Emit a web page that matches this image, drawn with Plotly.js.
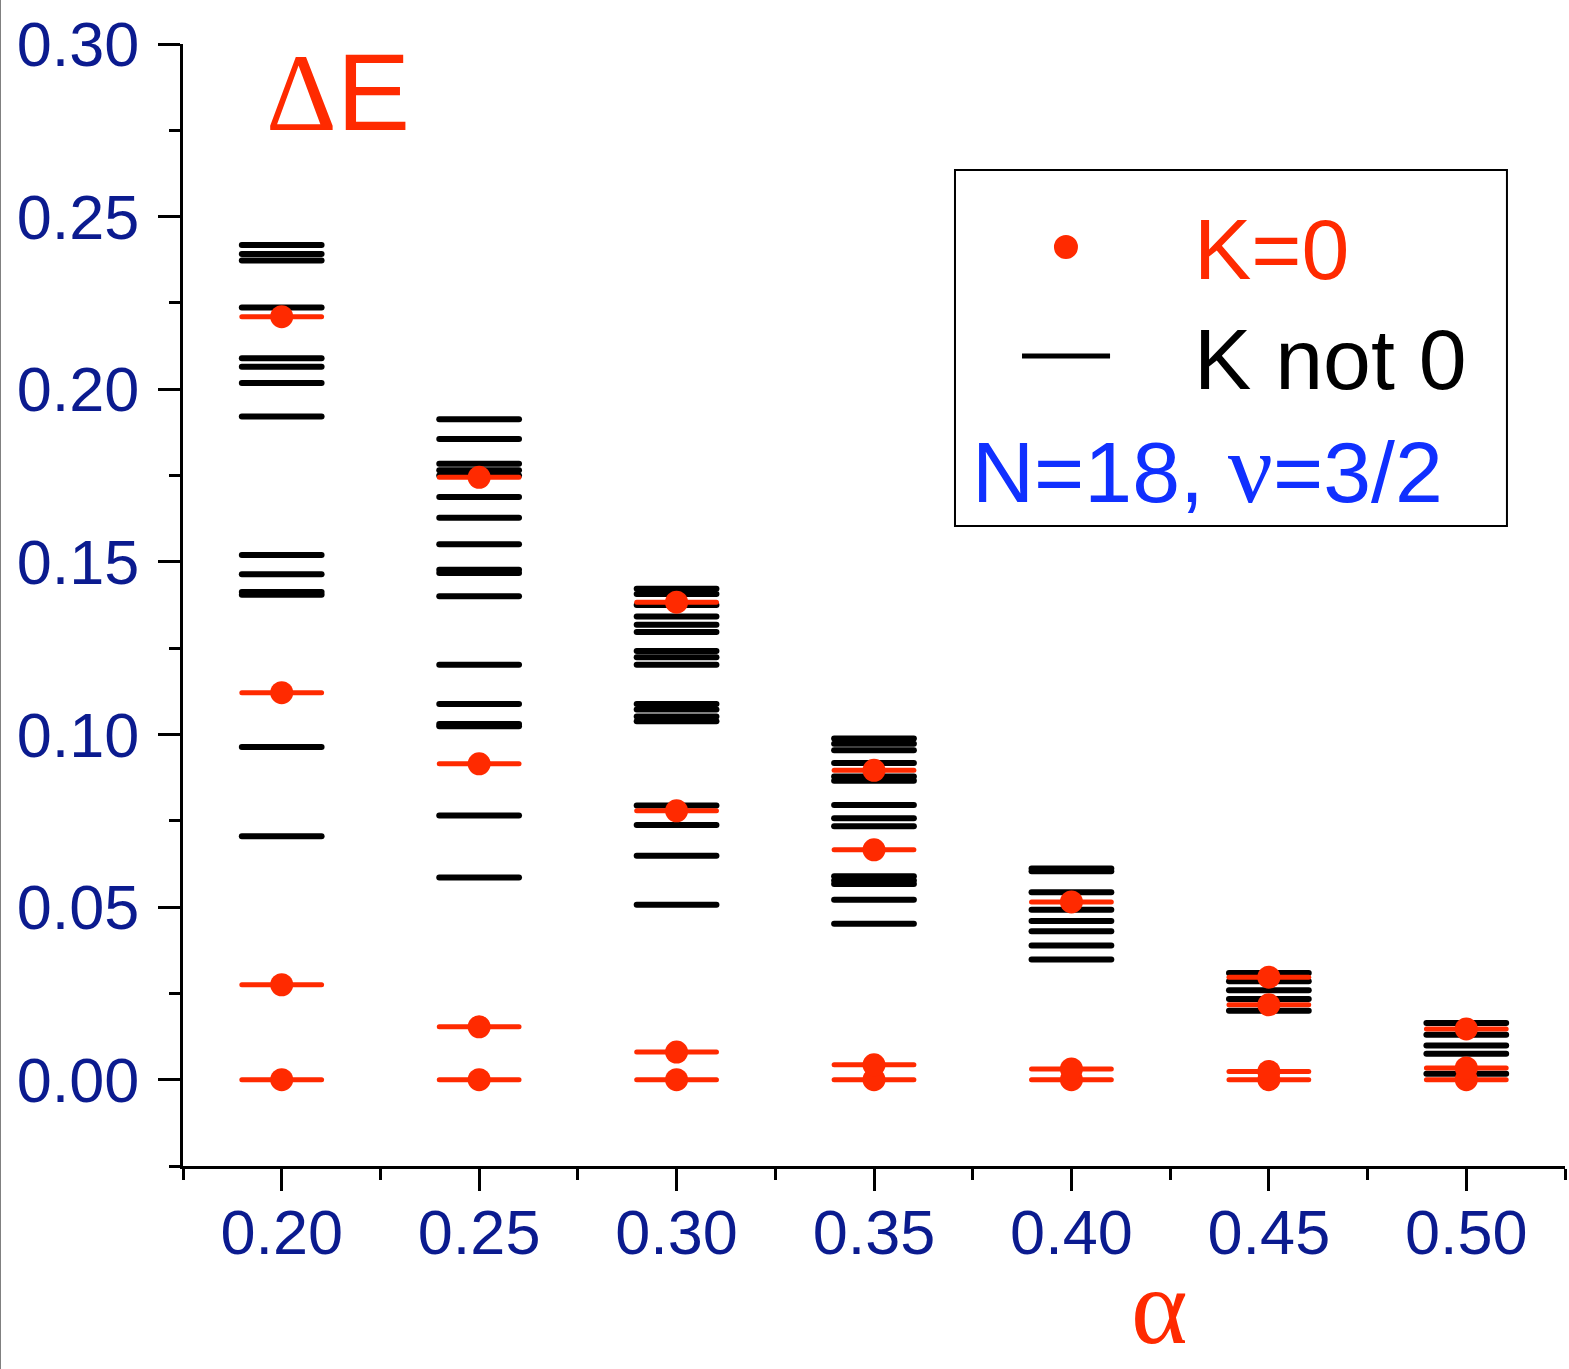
<!DOCTYPE html>
<html>
<head>
<meta charset="utf-8">
<script src="https://cdn.plot.ly/plotly-3.0.1.min.js"></script>
<style>
  html, body { margin: 0; padding: 0; background: #fff; }
  #chart { width: 1568px; height: 1369px; border-left: 1px solid #808080; }
  .scatterlayer .js-line { stroke-linecap: round; }
</style>
</head>
<body>
<div id="chart"></div>
<script>
// Coupling values on the x axis
const alpha = [0.20, 0.25, 0.30, 0.35, 0.40, 0.45, 0.50];

// Energy gaps of K = 0 states, one list per alpha
const levelsK0 = [
  [0, 0.0275, 0.1121, 0.2210],
  [0, 0.0153, 0.0915, 0.1745],
  [0, 0.0080, 0.0779, 0.1383],
  [0, 0.0043, 0.0666, 0.0896],
  [0, 0.0031, 0.0515],
  [0, 0.0024, 0.0217, 0.0297],
  [0, 0.0034, 0.0147]
];

// Energy gaps of K != 0 states, one list per alpha
const levelsKn0 = [
  [0.2418, 0.2392, 0.2373, 0.2237, 0.2090, 0.2065, 0.2018, 0.1921, 0.1520, 0.1464, 0.1413, 0.1405, 0.0964, 0.0705],
  [0.1913, 0.1856, 0.1784, 0.1765, 0.1750, 0.1688, 0.1628, 0.1551, 0.1477, 0.1468, 0.1400, 0.1202, 0.1088, 0.1030, 0.1024, 0.0765, 0.0586],
  [0.1422, 0.1407, 0.1375, 0.1342, 0.1318, 0.1297, 0.1242, 0.1224, 0.1202, 0.1088, 0.1072, 0.1052, 0.1038, 0.0794, 0.0738, 0.0649, 0.0507],
  [0.0988, 0.0973, 0.0954, 0.0917, 0.0878, 0.0866, 0.0796, 0.0757, 0.0734, 0.0589, 0.0577, 0.0567, 0.0521, 0.0452],
  [0.0612, 0.0604, 0.0543, 0.0492, 0.0460, 0.0430, 0.0389, 0.0348],
  [0.0309, 0.0285, 0.0259, 0.0234, 0.0200],
  [0.0164, 0.0130, 0.0099, 0.0075, 0.0017]
];

const xTickLabels = ['0.20', '0.25', '0.30', '0.35', '0.40', '0.45', '0.50'];

const RED = '#ff2a00';
const NAVY = '#0b1b8f';
const BLUE = '#1030ff';
const HALF = 0.0101; // half length of a level segment, in alpha units

// Build a short horizontal segment for every level, separated by gaps
function segments(levels) {
  const xs = [], ys = [];
  levels.forEach((col, i) => {
    col.forEach(v => {
      xs.push(alpha[i] - HALF, alpha[i] + HALF, null);
      ys.push(v, v, null);
    });
  });
  return { xs, ys };
}

const black = segments(levelsKn0);
const red = segments(levelsK0);

const dotX = [], dotY = [];
levelsK0.forEach((col, i) => col.forEach(v => { dotX.push(alpha[i]); dotY.push(v); }));

const traces = [
  { x: black.xs, y: black.ys, mode: 'lines', line: { color: '#000', width: 6 },
    hoverinfo: 'skip', showlegend: false, connectgaps: false },
  { x: red.xs, y: red.ys, mode: 'lines', line: { color: RED, width: 5 },
    hoverinfo: 'skip', showlegend: false, connectgaps: false },
  { x: dotX, y: dotY, mode: 'markers', marker: { color: RED, size: 23 },
    showlegend: false }
];

const tickFont = { family: 'Liberation Sans, Arial, sans-serif', size: 63, color: NAVY };

const layout = {
  width: 1568, height: 1369,
  margin: { l: 182, r: 4, t: 44, b: 203 },
  paper_bgcolor: '#fff', plot_bgcolor: '#fff',
  showlegend: false,
  xaxis: {
    range: [0.175, 0.525],
    tickvals: alpha, ticktext: xTickLabels,
    ticks: 'outside', ticklen: 22, tickwidth: 3, tickcolor: '#000',
    minor: { dtick: 0.025, tick0: 0.175, ticks: 'outside', ticklen: 11, tickwidth: 3, tickcolor: '#000' },
    showline: true, linewidth: 3, linecolor: '#000',
    showgrid: false, zeroline: false,
    tickfont: tickFont, ticklabelstandoff: -13
  },
  yaxis: {
    range: [-0.025, 0.30],
    dtick: 0.05, tick0: 0, tickformat: '.2f',
    ticks: 'outside', ticklen: 22, tickwidth: 3, tickcolor: '#000',
    minor: { dtick: 0.025, tick0: 0, ticks: 'outside', ticklen: 11, tickwidth: 3, tickcolor: '#000' },
    showline: true, linewidth: 3, linecolor: '#000',
    showgrid: false, zeroline: false,
    tickfont: tickFont, ticklabelstandoff: 6
  },
  shapes: [
    // legend frame
    { type: 'rect', xref: 'paper', yref: 'paper', x0: 0.5586, x1: 0.9580, y0: 0.5704, y1: 0.8877,
      line: { color: '#000', width: 2 }, fillcolor: 'rgba(0,0,0,0)' },
    // legend symbol: K = 0 dot
    { type: 'circle', xref: 'paper', yref: 'paper',
      x0: 0.6389 - 12 / 1382, x1: 0.6389 + 12 / 1382, y0: 0.8191 - 12 / 1122, y1: 0.8191 + 12 / 1122,
      fillcolor: RED, line: { width: 0 } },
    // legend symbol: K not 0 segment
    { type: 'line', xref: 'paper', yref: 'paper', x0: 0.6071, x1: 0.6708, y0: 0.7219, y1: 0.7219,
      line: { color: '#000', width: 5 } }
  ],
  annotations: [
    { xref: 'paper', yref: 'paper', x: 0.7301, y: 0.8173, xanchor: 'left', yanchor: 'middle',
      text: 'K=0', showarrow: false,
      font: { family: 'Liberation Sans, Arial, sans-serif', size: 86, color: RED } },
    { xref: 'paper', yref: 'paper', x: 0.7301, y: 0.7193, xanchor: 'left', yanchor: 'middle',
      text: 'K not 0', showarrow: false,
      font: { family: 'Liberation Sans, Arial, sans-serif', size: 86, color: '#000' } },
    { xref: 'paper', yref: 'paper', x: 0.5695, y: 0.6221, xanchor: 'left', yanchor: 'middle',
      text: 'N=18, <span style="font-family:Liberation Serif;font-size:100px">ν</span>=3/2', showarrow: false,
      font: { family: 'Liberation Sans, Arial, sans-serif', size: 86, color: BLUE } },
    { xref: 'paper', yref: 'paper', x: 0.1122, y: 0.9568, xanchor: 'center', yanchor: 'middle',
      text: '<span style="font-family:Liberation Serif">Δ</span>E', showarrow: false,
      font: { family: 'Liberation Sans, Arial, sans-serif', size: 110, color: RED } },
    { xref: 'paper', yref: 'paper', x: 0.7069, y: -0.1800, xanchor: 'center', yanchor: 'bottom',
      text: 'α', showarrow: false,
      font: { family: 'Liberation Serif, serif', size: 108, color: RED } }
  ]
};

Plotly.newPlot('chart', traces, layout, { staticPlot: true, displayModeBar: false });
</script>
</body>
</html>
